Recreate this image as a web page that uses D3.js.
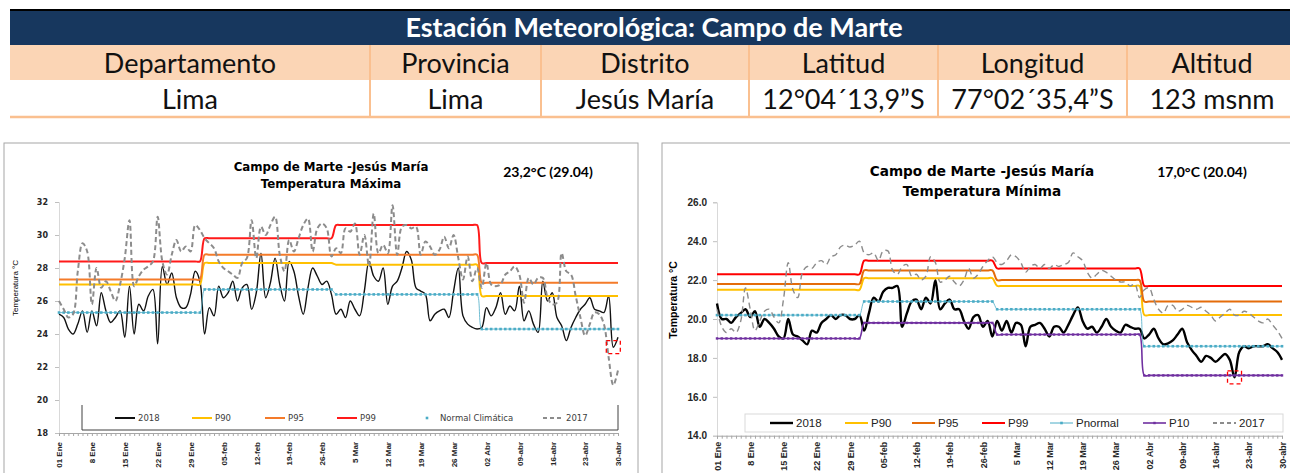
<!DOCTYPE html>
<html>
<head>
<meta charset="utf-8">
<script src="https://cdn.jsdelivr.net/npm/d3@7"></script>
<style>
  body { margin: 0; background: #fff; }
  svg { display: block; }
</style>
</head>
<body>
<div id="chart"></div>
<script>
// ---- station table ----
let tableTitle = "Estación Meteorológica: Campo de Marte";
let tableHeads = ["Departamento", "Provincia", "Distrito", "Latitud", "Longitud", "Altitud"];
let tableVals = ["Lima", "Lima", "Jesús María", "12°04´13,9”S", "77°02´35,4”S", "123 msnm"];

// ---- days (01 Ene .. 30 Abr) ----
let monthLen = [31, 28, 31, 30];
let dayTicks = ["01 Ene", "8 Ene", "15 Ene", "22 Ene", "29 Ene", "05-feb", "12-feb", "19-feb", "26-feb",
                "5 Mar", "12 Mar", "19 Mar", "26 Mar", "02 Abr", "09-abr", "16-abr", "23-abr", "30-abr"];

// ---- Temperatura Maxima ----
let max2018 = [
  25.2,25.0,24.3,24.0,24.6,25.4,24.1,25.4,24.5,26.5,25.4,24.7,25.0,25.4,23.8,26.9,24.0,25.8,25.4,26.3,26.7,23.4,28.1,27.0,27.7,26.2,25.6,25.6,26.4,27.8,27.2,
  24.0,25.6,25.1,26.9,26.2,26.5,27.2,26.0,26.8,27.0,25.5,26.5,28.9,26.2,27.1,28.6,27.0,26.0,28.4,27.8,26.3,25.2,26.8,28.0,27.5,27.0,27.2,26.4,
  25.2,25.5,25.0,26.0,25.5,25.1,26.6,28.4,27.5,27.2,28.0,25.8,26.9,27.2,28.0,29.0,28.5,26.8,26.6,26.4,24.8,25.2,25.4,25.5,25.0,26.6,28.0,25.1,24.6,24.4,24.3,
  24.4,25.6,25.1,25.6,26.5,25.2,25.7,25.4,26.9,24.8,25.4,24.6,24.1,27.2,26.0,26.5,25.0,24.5,23.6,24.4,25.0,25.5,25.8,26.2,25.5,25.4,25.3,26.3,23.2,23.8
];
let max2017 = [
  26.0,25.5,25.0,25.2,27.8,29.5,29.0,25.8,28.0,26.8,27.2,26.6,26.0,27.0,28.6,30.9,26.9,27.5,27.9,28.1,28.4,31.1,28.4,27.6,28.8,29.7,29.0,29.3,29.0,30.6,30.3,
  29.8,29.5,29.2,28.4,28.0,27.8,27.6,27.4,28.3,28.6,30.9,28.6,30.5,30.0,30.6,31.1,28.8,27.8,29.7,29.0,29.8,30.6,31.0,29.0,30.4,30.7,30.4,28.7,
  29.2,28.9,30.4,30.2,30.7,28.8,30.0,28.1,31.3,28.9,29.4,28.9,31.8,28.8,30.5,30.6,30.4,30.5,28.8,29.6,29.3,28.8,29.1,29.9,29.2,30.0,28.6,27.3,28.7,27.2,28.0,
  26.8,28.3,27.0,26.9,27.0,27.6,27.8,28.1,27.6,25.9,27.4,27.0,27.4,27.4,26.2,25.8,25.9,28.9,27.8,27.6,26.3,25.0,23.9,24.6,25.3,25.2,24.6,22.6,20.9,21.8
];
// monthly thresholds (Ene, Feb, Mar, Abr)
let maxP90 = [27.0, 28.3, 28.2, 26.3];
let maxP95 = [27.3, 28.8, 28.8, 27.1];
let maxP99 = [28.4, 29.8, 30.6, 28.3];
let maxNormal = [25.3, 26.7, 26.4, 24.3];
let maxLegend = ["2018", "P90", "P95", "P99", "Normal Climática", "2017"];
let maxMarkDay = 118;
let maxMarkText = "23,2°C (29.04)";

// ---- Temperatura Minima ----
let min2018 = [
  20.8,20.0,20.0,19.8,20.1,20.3,20.5,20.1,20.4,19.6,20.0,19.8,19.5,19.1,19.0,20.0,19.2,19.1,18.9,18.7,19.4,19.3,19.8,20.0,20.2,20.0,20.2,20.2,20.0,20.0,20.2,
  19.4,20.3,21.1,20.9,21.4,21.6,21.6,21.7,19.6,20.3,20.9,21.0,20.5,21.1,20.8,22.0,20.5,20.8,21.0,20.5,20.5,19.9,19.5,20.1,20.2,19.6,19.9,19.1,
  19.9,19.4,19.9,19.3,19.8,19.7,18.6,19.6,19.7,19.8,19.5,19.1,19.6,19.6,19.3,19.7,20.2,20.6,19.9,19.5,19.6,19.3,19.6,20.0,19.6,19.4,19.3,19.7,19.6,19.5,19.5,
  19.0,19.2,19.5,19.0,18.7,18.75,18.9,19.2,19.5,18.8,18.4,18.1,17.8,18.1,18.0,17.8,18.0,18.2,17.9,17.0,18.3,18.6,18.5,18.6,18.6,18.6,18.7,18.5,18.3,17.9
];
let min2017 = [
  20.5,19.6,19.3,19.5,19.3,19.9,21.6,20.5,19.4,19.9,20.4,20.5,20.1,19.8,21.0,22.9,21.5,21.1,22.4,22.7,22.6,22.9,23.0,22.8,23.2,23.3,23.7,23.8,23.7,23.8,24.0,
  23.4,23.3,23.4,23.0,23.5,23.5,22.5,22.3,22.7,22.8,22.2,22.3,22.0,22.2,23.2,22.9,21.9,22.0,22.2,21.9,21.7,22.0,22.6,22.1,22.3,22.7,23.0,23.2,
  22.9,22.8,23.0,23.3,23.2,22.9,22.4,22.7,22.8,22.6,22.8,22.6,22.8,22.7,22.8,22.9,23.4,23.2,23.0,22.4,22.1,22.3,22.5,22.4,22.2,22.0,21.9,21.9,21.7,21.8,21.1,
  21.5,21.6,21.0,20.5,20.3,20.7,20.7,20.4,20.5,20.7,20.6,20.5,20.6,20.4,20.2,19.9,20.1,20.3,20.5,20.2,20.2,20.4,20.3,20.1,19.9,19.8,20.0,19.7,19.4,19.0
];
let minP90 = [21.5, 22.1, 21.7, 20.2];
let minP95 = [21.8, 22.5, 22.0, 20.9];
let minP99 = [22.3, 23.0, 22.6, 21.7];
let minNormal = [20.2, 20.9, 20.5, 18.6];
let minP10 = [19.0, 19.8, 19.2, 17.1];
let minLegend = ["2018", "P90", "P95", "P99", "Pnormal", "P10", "2017"];
let minMarkDay = 109;
let minMarkText = "17,0°C (20.04)";

// expand monthly value to the days of the month
function monthly(vals)
{
	let out = [];
	monthLen.forEach(function(n, m) { for (let k = 0; k < n; k++) out.push(vals[m]); });
	return out;
}

let svg = d3.select("#chart").append("svg")
	.attr("width", 1290)
	.attr("height", 473);

drawTable();

drawPanel({
	frame: [4, 143, 634, 360],
	left: 59, right: 618, top: 202, bottom: 433,
	yMin: 18, yMax: 32, yFmt: d3.format("d"),
	yTickFont: "bold 8px 'DejaVu Sans'", yPad: 7,
	xTickFont: "bold 8px 'Liberation Sans Narrow', 'Liberation Sans'", xGap: 9,
	yLabel: "Temperatura  °C", yLabelFont: "8px 'Liberation Sans'", yLabelX: 15, yLabelY: 288,
	title: ["Campo de Marte -Jesús María", "Temperatura Máxima"], titleX: 331, titleY: [171, 188],
	titleFont: "bold 11.8px 'DejaVu Sans'",
	mark: maxMarkText, markX: 548, markY: 177, markFont: "bold 14px Lato",
	markDay: maxMarkDay, markVal: max2018[maxMarkDay],
	series: [
		{ v: max2018, color: "#111", w: 1.4 },
		{ v: monthly(maxP90), color: "#FFC000", w: 2 },
		{ v: monthly(maxP95), color: "#F47B2A", w: 2 },
		{ v: monthly(maxP99), color: "#FF1A1A", w: 2 },
		{ v: monthly(maxNormal), color: "#4BACC6", w: 0.8, marker: 2.6 },
		{ v: max2017, color: "#8C8C8C", w: 2, dash: "5,3" }
	],
	legend: maxLegend, legendBox: "open",
	legendX: [115, 192, 265, 337, 417, 543], legendY: 418, legendLen: 20,
	legendFont: "8.5px 'DejaVu Sans'", legendColor: "#404040",
	legendFrame: [82, 405, 618, 430]
});

drawPanel({
	frame: [662, 143, 640, 360],
	left: 717, right: 1282, top: 202.3, bottom: 435.7,
	yMin: 14, yMax: 26, yFmt: d3.format(".1f"),
	yTickFont: "bold 10px 'Liberation Sans'", yPad: 6,
	xTickFont: "bold 9px 'Liberation Sans Narrow', 'Liberation Sans'", xGap: 6,
	yLabel: "Temperatura  °C", yLabelFont: "bold 10.5px 'Liberation Sans'", yLabelX: 673, yLabelY: 300,
	title: ["Campo de Marte -Jesús María", "Temperatura Mínima"], titleX: 982, titleY: [176, 196],
	titleFont: "bold 13.6px 'DejaVu Sans'",
	mark: minMarkText, markX: 1202, markY: 177, markFont: "bold 14px Lato",
	markDay: minMarkDay, markVal: min2018[minMarkDay],
	series: [
		{ v: min2018, color: "#000", w: 2.4 },
		{ v: monthly(minP90), color: "#FFC000", w: 2 },
		{ v: monthly(minP95), color: "#E46C0A", w: 2 },
		{ v: monthly(minP99), color: "#FF0000", w: 2 },
		{ v: monthly(minNormal), color: "#4BACC6", w: 0.8, marker: 2.6 },
		{ v: monthly(minP10), color: "#7030A0", w: 1.6, marker: 2.4 },
		{ v: min2017, color: "#8C8C8C", w: 1.4, dash: "6,4" }
	],
	legend: minLegend, legendBox: "rect",
	legendX: [770, 845, 912, 982, 1050, 1143, 1213], legendY: 423, legendLen: 23,
	legendFont: "11.5px 'Liberation Sans'", legendColor: "#222",
	legendFrame: [745, 414, 1283, 432]
});

// Function: drawTable
// station header block on top
function drawTable()
{
	let edges = [10, 370, 541, 749, 938, 1127, 1297];
	let g = svg.append("g");

	g.append("rect").attr("x", 10).attr("y", 10).attr("width", 1280).attr("height", 35).attr("fill", "#17375E");
	g.append("line").attr("x1", 10).attr("x2", 1290).attr("y1", 10).attr("y2", 10)
		.attr("stroke", "#000").attr("stroke-width", 2);
	g.append("text")
		.attr("x", 654).attr("y", 37)
		.attr("text-anchor", "middle")
		.attr("style", "font: bold 27px Lato; fill: #fff")
		.text(tableTitle);

	g.append("rect").attr("x", 10).attr("y", 45).attr("width", 1280).attr("height", 35).attr("fill", "#FBD5B5");
	g.append("line").attr("x1", 10).attr("x2", 1290).attr("y1", 117).attr("y2", 117)
		.attr("stroke", "#FAC090").attr("stroke-width", 2.5);

	g.selectAll("line.div")
		.data(edges.slice(1, 6))
		.enter().append("line")
		.attr("class", "div")
		.attr("x1", function(d) { return d; }).attr("x2", function(d) { return d; })
		.attr("y1", 45).attr("y2", 117)
		.attr("stroke", "#FAC090").attr("stroke-width", 2);

	g.selectAll("text.head")
		.data(tableHeads)
		.enter().append("text")
		.attr("class", "head")
		.attr("x", function(d, i) { return (edges[i] + edges[i + 1]) / 2; })
		.attr("y", 73)
		.attr("text-anchor", "middle")
		.attr("style", "font: 27px Lato; fill: #111")
		.text(function(d) { return d; });

	g.selectAll("text.val")
		.data(tableVals)
		.enter().append("text")
		.attr("class", "val")
		.attr("x", function(d, i) { return (edges[i] + edges[i + 1]) / 2; })
		.attr("y", 109)
		.attr("text-anchor", "middle")
		.attr("style", "font: 27px Lato; fill: #111")
		.text(function(d) { return d; });
}

// Function: drawPanel
// one temperature chart with its frame, axes, series and legend
function drawPanel(p)
{
	let nDays = d3.sum(monthLen);
	let x = d3.scaleLinear().domain([0, nDays - 1]).range([p.left, p.right]);
	let y = d3.scaleLinear().domain([p.yMin, p.yMax]).range([p.bottom, p.top]);
	let g = svg.append("g");

	g.append("rect")
		.attr("x", p.frame[0]).attr("y", p.frame[1])
		.attr("width", p.frame[2]).attr("height", p.frame[3])
		.attr("fill", "#fff").attr("stroke", "#A6A6A6");

	// y axis
	let gy = g.append("g")
		.attr("transform", "translate(" + p.left + ",0)")
		.call(d3.axisLeft(y).tickValues(d3.range(p.yMin, p.yMax + 0.01, 2)).tickSize(4).tickPadding(p.yPad).tickFormat(p.yFmt));
	gy.select(".domain").attr("stroke", "#D9D9D9");
	gy.selectAll(".tick line").attr("stroke", "#BFBFBF");
	gy.selectAll("text").attr("style", "font: " + p.yTickFont + "; fill: #262626");

	// x axis, one tick per day, a label each week
	let gx = g.append("g")
		.attr("transform", "translate(0," + p.bottom + ")")
		.call(d3.axisBottom(x).tickValues(d3.range(0, nDays)).tickSize(3)
			.tickFormat(function(d) { return d % 7 == 0 ? dayTicks[d / 7] : ""; }));
	gx.select(".domain").attr("stroke", "#A6A6A6");
	gx.selectAll(".tick line").attr("stroke", "#A6A6A6");
	gx.selectAll("text")
		.attr("transform", "rotate(-90)")
		.attr("text-anchor", "end")
		.attr("x", -p.xGap)
		.attr("y", 0)
		.attr("dy", "0.35em")
		.attr("style", "font: " + p.xTickFont + "; fill: #262626");

	// axis title
	g.append("text")
		.attr("transform", "translate(" + p.yLabelX + "," + p.yLabelY + ") rotate(-90)")
		.attr("text-anchor", "middle")
		.attr("dy", "0.35em")
		.attr("style", "font: " + p.yLabelFont + "; fill: #000")
		.text(p.yLabel);

	// chart title
	g.selectAll("text.title")
		.data(p.title)
		.enter().append("text")
		.attr("class", "title")
		.attr("x", p.titleX)
		.attr("y", function(d, i) { return p.titleY[i]; })
		.attr("text-anchor", "middle")
		.attr("style", "font: " + p.titleFont + "; fill: #000")
		.text(function(d) { return d; });

	g.append("text")
		.attr("x", p.markX).attr("y", p.markY)
		.attr("text-anchor", "middle")
		.attr("style", "font: " + p.markFont + "; fill: #000")
		.text(p.mark);

	// series
	let line = d3.line()
		.x(function(d, i) { return x(i); })
		.y(function(d) { return y(d); })
		.curve(d3.curveCatmullRom.alpha(0.5));

	p.series.forEach(function(s) {
		g.append("path")
			.attr("d", line(s.v))
			.attr("fill", "none")
			.attr("stroke", s.color)
			.attr("stroke-width", s.w)
			.attr("stroke-dasharray", s.dash ? s.dash : null)
			.attr("stroke-linejoin", "round");
		if (s.marker)
		{
			g.selectAll(null)
				.data(s.v)
				.enter().append("rect")
				.attr("x", function(d, i) { return x(i) - s.marker / 2; })
				.attr("y", function(d) { return y(d) - s.marker / 2; })
				.attr("width", s.marker).attr("height", s.marker)
				.attr("fill", s.color);
		}
	});

	// highlighted value
	g.append("rect")
		.attr("x", x(p.markDay) - 7).attr("y", y(p.markVal) - 6.5)
		.attr("width", 14).attr("height", 13)
		.attr("fill", "none").attr("stroke", "#FF0000").attr("stroke-width", 1.3)
		.attr("stroke-dasharray", "4,3");

	// legend
	let f = p.legendFrame;
	if (p.legendBox == "rect")
	{
		g.append("rect").attr("x", f[0]).attr("y", f[1]).attr("width", f[2] - f[0]).attr("height", f[3] - f[1])
			.attr("fill", "#fff").attr("stroke", "#D9D9D9");
	}
	else
	{
		g.append("path")
			.attr("d", "M" + f[0] + "," + f[1] + " L" + f[0] + "," + f[3] + " L" + f[2] + "," + f[3] + " L" + f[2] + "," + f[1])
			.attr("fill", "none").attr("stroke", "#404040").attr("stroke-width", 1);
	}

	let lg = g.selectAll("g.leg")
		.data(p.legend)
		.enter().append("g")
		.attr("class", "leg")
		.attr("transform", function(d, i) { return "translate(" + p.legendX[i] + "," + p.legendY + ")"; });

	lg.each(function(d, i) {
		let s = p.series[i];
		let el = d3.select(this);
		if (!(s.marker && p.legendBox == "open"))
		{
			el.append("line")
				.attr("x1", 0).attr("x2", p.legendLen)
				.attr("stroke", s.color)
				.attr("stroke-width", s.marker ? Math.max(s.w, 1) : Math.max(s.w, 2))
				.attr("stroke-dasharray", s.dash ? "4,3" : null);
		}
		if (s.marker)
		{
			el.append("rect")
				.attr("x", p.legendLen / 2 - s.marker / 2).attr("y", -s.marker / 2)
				.attr("width", s.marker).attr("height", s.marker)
				.attr("fill", s.color);
		}
		el.append("text")
			.attr("x", p.legendLen + 3)
			.attr("dy", "0.35em")
			.attr("style", "font: " + p.legendFont + "; fill: " + p.legendColor)
			.text(d);
	});
}
</script>
</body>
</html>
